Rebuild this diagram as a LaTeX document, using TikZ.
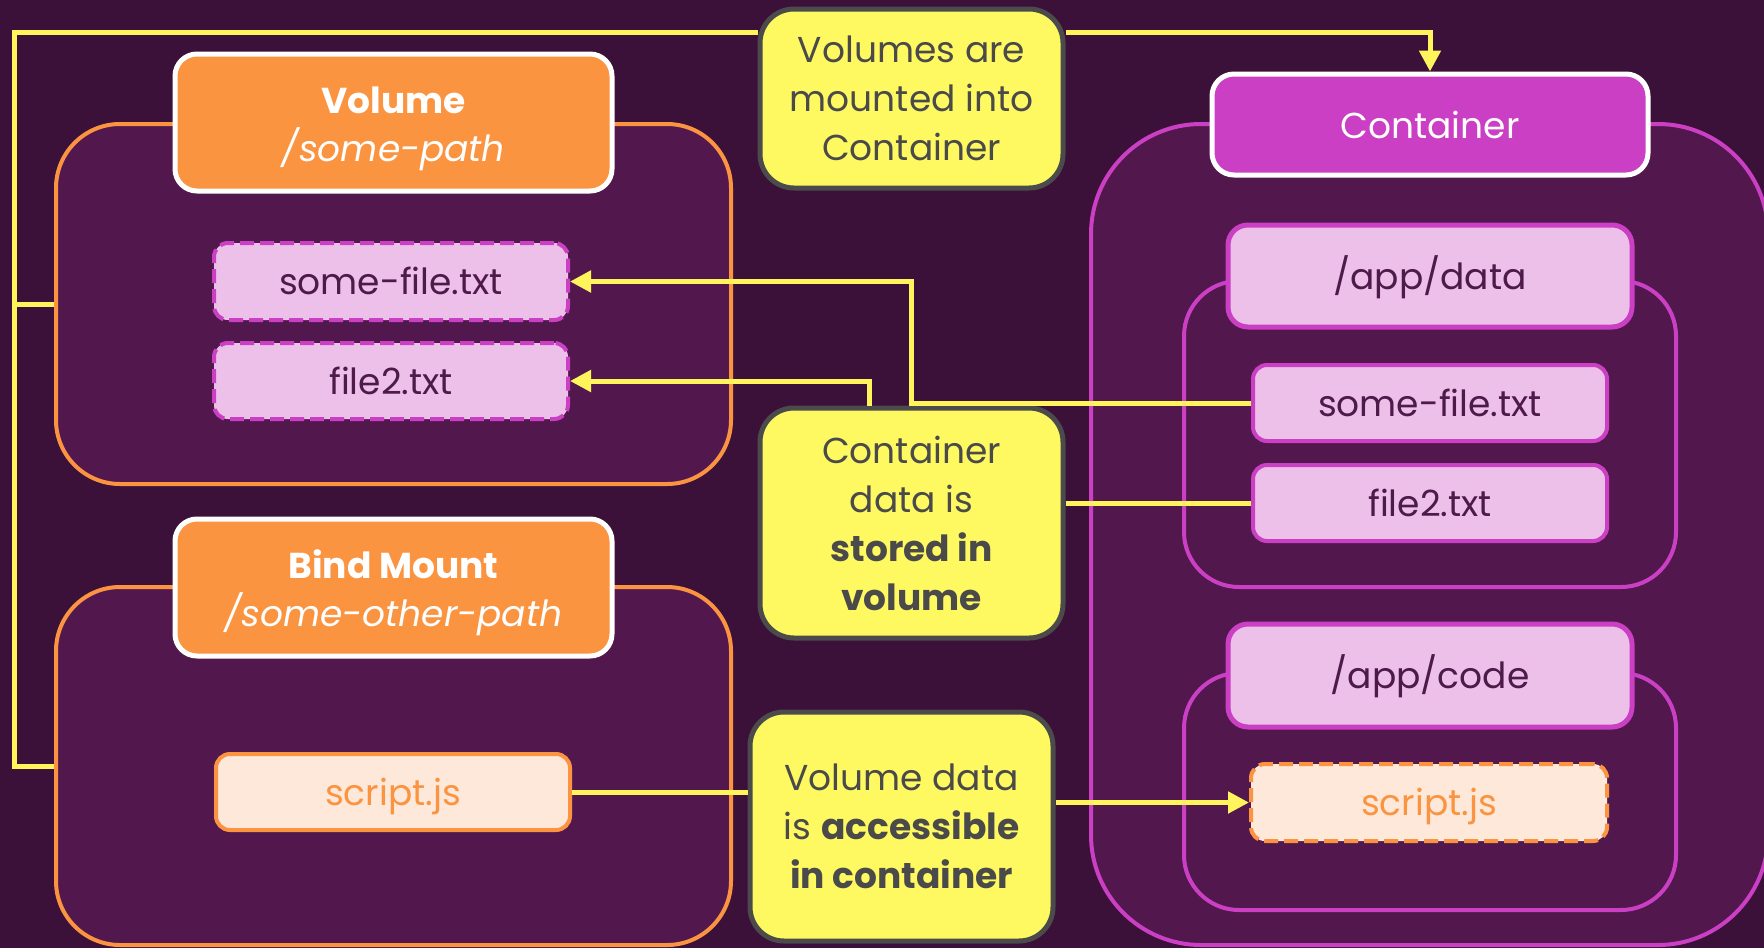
\documentclass[tikz,border=0pt]{standalone}
\usepackage{fontspec}
\setmainfont{Poppins}
\usetikzlibrary{arrows.meta}
\definecolor{bg}{HTML}{3C1139}
\definecolor{grpfill}{HTML}{52184E}
\definecolor{orng}{HTML}{FA9441}
\definecolor{mag}{HTML}{CA3FC3}
\definecolor{pink}{HTML}{ECC0E9}
\definecolor{peach}{HTML}{FDE8D9}
\definecolor{darktxt}{HTML}{4D1A4A}
\definecolor{noteyellow}{HTML}{FFF961}
\definecolor{notegray}{HTML}{4B4B4B}
\definecolor{notetext}{HTML}{4A4A4A}
\definecolor{connyellow}{HTML}{FFF45C}
\newcommand{\txtfont}{\fontsize{36}{49}\selectfont}
\newcommand{\hdfont}{\fontsize{36}{47}\selectfont}
\newcommand{\twolines}[2]{\raisebox{-6pt}[\height][\depth]{\begin{tabular}{@{}c@{}}#1\\#2\end{tabular}}}
\tikzset{
  grp/.style={draw, line width=4pt, fill=grpfill, inner sep=0pt},
  head/.style={draw=white, line width=5pt, rounded corners=22pt, inner sep=0pt, align=center, text=white, font=\hdfont},
  subhead/.style={draw=mag, fill=pink, line width=5pt, rounded corners=20pt, inner sep=0pt, text=darktxt, font=\txtfont, text height=26pt, text depth=0pt},
  filebox/.style={rounded corners=14pt, line width=4pt, inner sep=0pt, font=\txtfont, minimum width=354pt, minimum height=76pt, text height=26pt, text depth=0pt},
  pinkfile/.style={filebox, draw=mag, fill=pink, text=darktxt},
  peachfile/.style={filebox, draw=orng, fill=peach, text=orng},
  dashfile/.style={dash pattern=on 14pt off 6pt},
  note/.style={draw=notegray, fill=noteyellow, line width=5pt, rounded corners=34pt, text=notetext, align=center, inner sep=0pt, font=\txtfont, minimum width=303pt},
  conn/.style={draw=connyellow, line width=5pt},
  arrowed/.style={-{Triangle[length=21pt,width=21pt]}}
}
\begin{document}
\begin{tikzpicture}[x=1pt,y=-1pt]
\path[use as bounding box] (0,0) rectangle (1764,948);
\clip (0,0) rectangle (1764,948);
\fill[bg] (0,0) rectangle (1764,948);

% group boxes
\node[grp, draw=orng, rounded corners=64pt, minimum width=675pt, minimum height=360pt] (volgrp) at (393.5,304) {};
\node[grp, draw=orng, rounded corners=64pt, minimum width=675pt, minimum height=358pt] (bindgrp) at (393.5,766) {};
\node[grp, draw=mag, rounded corners=110pt, minimum width=677pt, minimum height=821pt] (contgrp) at (1429.5,534.5) {};
\node[grp, draw=mag, rounded corners=55pt, minimum width=492pt, minimum height=306pt] (datagrp) at (1430,434) {};
\node[grp, draw=mag, rounded corners=55pt, minimum width=492pt, minimum height=237pt] (codegrp) at (1430,791.5) {};

% headers
\node[head, fill=orng, minimum width=437pt, minimum height=137pt] (volhead) at (393.5,122.5) {\twolines{\textbf{Volume}}{\textit{/some-path}}};
\node[head, fill=orng, minimum width=437pt, minimum height=137pt] (bindhead) at (393.5,587.5) {\twolines{\textbf{Bind Mount}}{\textit{/some-other-path}}};
\node[head, fill=mag, minimum width=436pt, minimum height=101pt] (conthead) at (1430,124.5) {Container};
\node[subhead, minimum width=404pt, minimum height=102pt] (datahead) at (1430,276) {/app/data};
\node[subhead, minimum width=404pt, minimum height=103pt] (codehead) at (1430,675.5) {/app/code};

% files
\node[pinkfile, dashfile, minimum height=77pt] (vsome) at (391,281.5) {some-file.txt};
\node[pinkfile, dashfile] (vfile2) at (391,381) {file2.txt};
\node[peachfile] (bscript) at (393,792) {script.js};
\node[pinkfile] (csome) at (1430,403) {some-file.txt};
\node[pinkfile] (cfile2) at (1430,503) {file2.txt};
\node[peachfile, dashfile, minimum width=356pt, minimum height=77pt] (cscript) at (1429,802.5) {script.js};

% notes
\node[note, minimum height=179pt] (mountnote) at (911.5,98.5) {Volumes are\\mounted into\\Container};
\node[note, minimum height=230pt] (midnote) at (911.5,523) {Container\\data is\\\textbf{stored in}\\\textbf{volume}};
\node[note, minimum height=229pt] (accnote) at (901.5,826.5) {Volume data\\is \textbf{accessible}\\\textbf{in container}};

% helper coordinates
\coordinate (trunk) at (14,0);
\coordinate (topy) at (0,32);
\coordinate (jogA) at (911,0);
\coordinate (jogB) at (869,0);

% connectors
\draw[conn] (volgrp.west) -- (volgrp.west -| trunk);
\draw[conn] (mountnote.west |- topy) -| (bindgrp.west -| trunk) -- (bindgrp.west);
\draw[conn, arrowed] (mountnote.east |- topy) -| (conthead.north);
\draw[conn, arrowed] (csome.west) -- (csome.west -| jogA) |- (vsome.east);
\draw[conn, arrowed] (jogB |- midnote.north) |- (vfile2.east);
\draw[conn] (cfile2.west) -- (cfile2.west -| midnote.east);
\draw[conn] (bscript.east) -- (bscript.east -| accnote.west);
\draw[conn, arrowed] (accnote.east |- cscript.west) -- (cscript.west);
\end{tikzpicture}
\end{document}
